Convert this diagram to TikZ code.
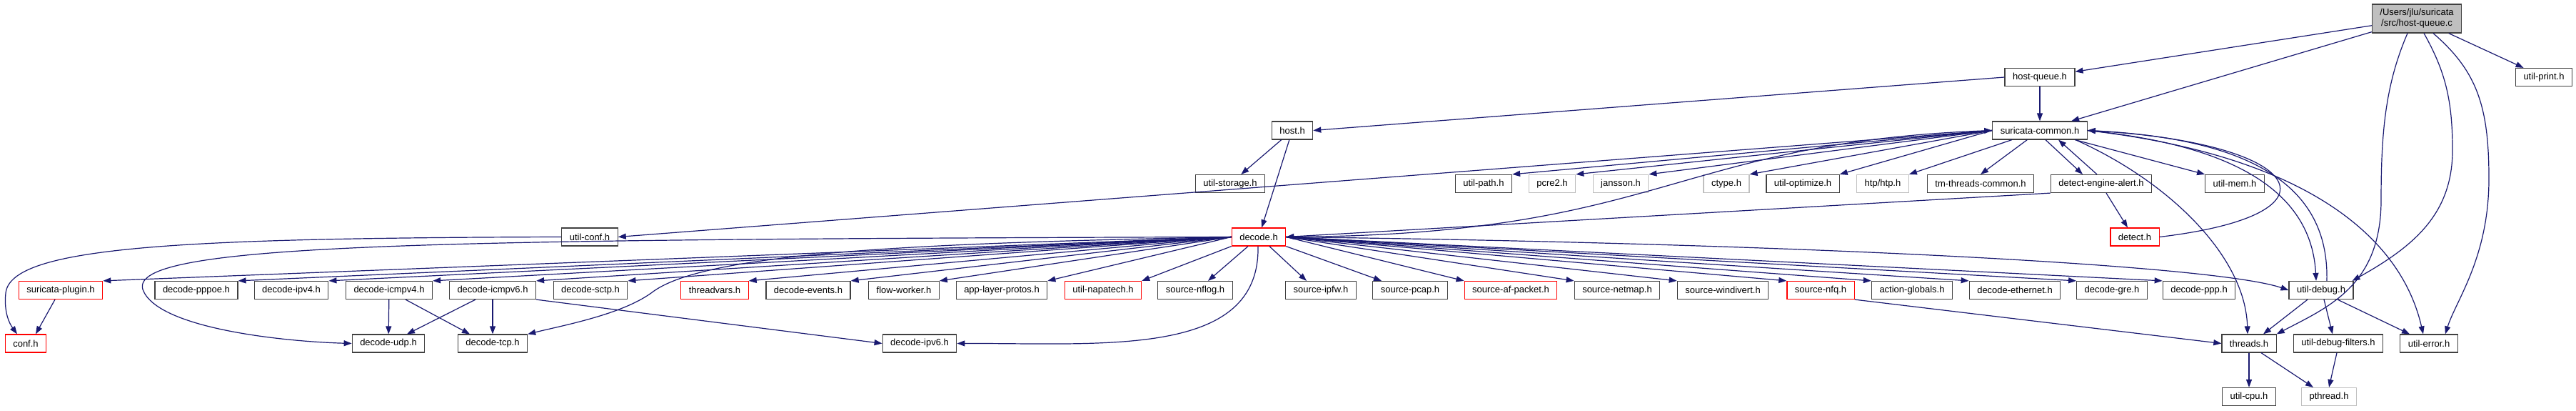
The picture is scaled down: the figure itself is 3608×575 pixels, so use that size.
\documentclass[tikz,border=0pt]{standalone}
\usepackage{fontspec}
\setmainfont{Liberation Sans}
\usetikzlibrary{arrows.meta}
\definecolor{DoxyEdge}{RGB}{25,25,112}
\definecolor{DoxyFrame}{RGB}{64,64,64}
\definecolor{DoxyGrey}{RGB}{191,191,191}
\definecolor{DoxyRed}{RGB}{255,0,0}

\begin{document}
\begin{tikzpicture}[
    x=1pt,y=-1pt,
    box/.style={draw=DoxyFrame,line width=1.2pt,fill=white,minimum height=25pt,inner xsep=11pt,inner ysep=2pt,font=\fontsize{13}{15}\selectfont},
    sysbox/.style={box,draw=DoxyGrey},
    cutbox/.style={box,draw=DoxyRed},
    rootbox/.style={box,fill=DoxyGrey,align=center,minimum height=40pt},
    arr/.style={-{Triangle[length=11pt,width=8pt]},line width=1.2pt,draw=DoxyEdge}
  ]
    \path[use as bounding box,fill=white] (0,0) rectangle (3608,575);

    \node[rootbox] (hostqueuec) at (3385,26) {/Users/jlu/suricata\\/src/host-queue.c};
    \node[box] (hostqueue) at (2857,108) {host-queue.h};
    \node[box] (utilprint) at (3563,108) {util-print.h};
    \node[box] (host) at (1810,182.5) {host.h};
    \node[box] (common) at (2857,182.5) {suricata-common.h};
    \node[box] (utilstorage) at (1723,257) {util-storage.h};
    \node[box] (utilpath) at (2078,257) {util-path.h};
    \node[sysbox] (pcre) at (2174,257) {pcre2.h};
    \node[sysbox] (jansson) at (2270,257) {jansson.h};
    \node[sysbox] (ctype) at (2418,257) {ctype.h};
    \node[box] (utiloptimize) at (2525,257) {util-optimize.h};
    \node[sysbox] (htp) at (2637,257) {htp/htp.h};
    \node[box] (tmthreads) at (2774,257) {tm-threads-common.h};
    \node[box] (dealert) at (2943,257) {detect-engine-alert.h};
    \node[box] (utilmem) at (3130,257) {util-mem.h};
    \node[box] (utilconf) at (826,331.5) {util-conf.h};
    \node[cutbox] (decode) at (1763,331.5) {decode.h};
    \node[cutbox] (detect) at (2990,331.5) {detect.h};
    \node[cutbox] (plugin) at (85,406) {suricata-plugin.h};
    \node[box] (pppoe) at (275,406) {decode-pppoe.h};
    \node[box] (ipv4) at (408,406) {decode-ipv4.h};
    \node[box] (icmpv4) at (545,406) {decode-icmpv4.h};
    \node[box] (icmpv6) at (690,406) {decode-icmpv6.h};
    \node[box] (sctp) at (827,406) {decode-sctp.h};
    \node[cutbox] (threadvars) at (1001,406) {threadvars.h};
    \node[box] (events) at (1132,406) {decode-events.h};
    \node[box] (flowworker) at (1266,406) {flow-worker.h};
    \node[box] (alprotos) at (1403,406) {app-layer-protos.h};
    \node[cutbox] (napatech) at (1545,406) {util-napatech.h};
    \node[box] (nflog) at (1674,406) {source-nflog.h};
    \node[box] (ipfw) at (1850,406) {source-ipfw.h};
    \node[box] (pcap) at (1975,406) {source-pcap.h};
    \node[cutbox] (afpacket) at (2116,406) {source-af-packet.h};
    \node[box] (netmap) at (2265,406) {source-netmap.h};
    \node[box] (windivert) at (2413,406) {source-windivert.h};
    \node[cutbox] (nfq) at (2550,406) {source-nfq.h};
    \node[box] (actionglobals) at (2678,406) {action-globals.h};
    \node[box] (ethernet) at (2822,406) {decode-ethernet.h};
    \node[box] (gre) at (2958,406) {decode-gre.h};
    \node[box] (ppp) at (3080,406) {decode-ppp.h};
    \node[box] (utildebug) at (3251,406) {util-debug.h};
    \node[cutbox] (conf) at (36,480.5) {conf.h};
    \node[box] (udp) at (544,480.5) {decode-udp.h};
    \node[box] (tcp) at (690,480.5) {decode-tcp.h};
    \node[box] (ipv6) at (1288,480.5) {decode-ipv6.h};
    \node[box] (threads) at (3150,480.5) {threads.h};
    \node[box] (debugfilters) at (3275,480.5) {util-debug-filters.h};
    \node[box] (utilerror) at (3402,480.5) {util-error.h};
    \node[box] (utilcpu) at (3150,555) {util-cpu.h};
    \node[sysbox] (pthread) at (3262,555) {pthread.h};

    \draw[arr] (hostqueuec) -- (hostqueue);
    \draw[arr] (hostqueuec) -- (common);
    \draw[arr] (hostqueuec) -- (utilprint);
    \draw[arr] ([xshift=-13pt]hostqueuec.south) .. controls (3340,120) and (3335,190) .. (3335,280) .. controls (3335,400) and (3260,430) .. (threads.north east);
    \draw[arr] ([xshift=10pt]hostqueuec.south) .. controls (3425,100) and (3435,140) .. (3435,210) .. controls (3435,300) and (3380,345) .. ([xshift=-2pt]utildebug.north east);
    \draw[arr] ([xshift=23pt]hostqueuec.south) .. controls (3470,100) and (3486,150) .. (3486,250) .. controls (3486,360) and (3440,420) .. ([xshift=-18pt]utilerror.north east);
    \draw[arr] (hostqueue.west) -- (host.east);
    \draw[arr] (hostqueue) -- (common);
    \draw[arr] (host) -- (utilstorage);
    \draw[arr] (host) -- (decode);

    \draw[arr] (common.west) -- (utilpath.north east);
    \draw[arr] (common.west) -- (pcre.north east);
    \draw[arr] (common.west) -- (jansson.north east);
    \draw[arr] (common.west) -- (ctype.north east);
    \draw[arr] (common.west) -- (utiloptimize.north east);
    \draw[arr] (common.west) -- (utilconf.east);
    \draw[arr] (common) -- (htp.north east);
    \draw[arr] (common) -- (tmthreads.north);
    \draw[arr] ([xshift=8pt]common.south) -- ([xshift=-26pt]dealert.north);
    \draw[arr] (common) -- (utilmem.north west);
    \draw[arr] ([xshift=50pt]common.south) .. controls (3040,255) and (3145,360) .. ([xshift=-2pt]threads.north);
    \draw[arr] (common.east) .. controls (3150,205) and (3238,280) .. ([xshift=-7pt]utildebug.north);
    \draw[arr] (common.east) .. controls (3210,215) and (3360,320) .. ([xshift=-8pt]utilerror.north);
    \draw[arr] ([xshift=8pt]utildebug.north) .. controls (3262,270) and (3170,195) .. (common.east);
    \draw[arr] (detect.east) .. controls (3290,300) and (3230,200) .. (common.east);
    \draw[arr] ([xshift=-6pt]dealert.north) -- ([xshift=26pt]common.south);
    \draw[arr] ([xshift=7pt]dealert.south) -- ([xshift=-10pt]detect.north);
    \draw[arr] (dealert.south west) -- (decode.east);
    \draw[arr] (decode.east) .. controls (2330,330) and (2340,200) .. (common.west);

    \draw[arr] (utilconf.west) .. controls (250,333) and (15,345) .. (8,410) .. controls (5,440) and (15,455) .. ([xshift=-12pt]conf.north);
    \draw[arr] ([xshift=-8pt]plugin.south) -- ([xshift=14pt]conf.north);

    \draw[arr] (decode.west) -- (plugin.north east);
    \draw[arr] (decode.west) -- (pppoe.north east);
    \draw[arr] (decode.west) -- (ipv4.north east);
    \draw[arr] (decode.west) -- (icmpv4.north east);
    \draw[arr] (decode.west) -- (icmpv6.north east);
    \draw[arr] (decode.west) -- (sctp.north east);
    \draw[arr] (decode.west) -- (threadvars.north east);
    \draw[arr] (decode.west) -- (events.north east);
    \draw[arr] (decode.west) -- (flowworker.north east);
    \draw[arr] (decode.west) -- (alprotos.north east);
    \draw[arr] (decode.south west) -- (napatech.north east);
    \draw[arr] ([xshift=-15pt]decode.south) -- ([xshift=18pt]nflog.north);
    \draw[arr] ([xshift=15pt]decode.south) -- ([xshift=-20pt]ipfw.north);
    \draw[arr] (decode.south east) -- ([xshift=-40pt]pcap.north);
    \draw[arr] (decode.east) -- (afpacket.north west);
    \draw[arr] (decode.east) -- (netmap.north west);
    \draw[arr] (decode.east) -- (windivert.north west);
    \draw[arr] (decode.east) -- (nfq.north west);
    \draw[arr] (decode.east) -- (actionglobals.north west);
    \draw[arr] (decode.east) -- (ethernet.north west);
    \draw[arr] (decode.east) -- (gre.north west);
    \draw[arr] (decode.east) -- (ppp.north west);
    \draw[arr] (decode.east) .. controls (2500,340) and (3100,370) .. (utildebug.west);
    \draw[arr] (decode.west) .. controls (600,335) and (180,340) .. (200,405) .. controls (220,460) and (400,478) .. (udp.west);
    \draw[arr] (decode.west) .. controls (1300,340) and (985,352) .. (912,410) .. controls (870,440) and (790,455) .. (tcp.north east);
    \draw[arr] ([xshift=-1pt]decode.south) .. controls (1765,500) and (1550,480) .. (ipv6.east);

    \draw[arr] (icmpv4) -- (udp);
    \draw[arr] ([xshift=23pt]icmpv4.south) -- ([xshift=-32pt]tcp.north);
    \draw[arr] ([xshift=-24pt]icmpv6.south) -- ([xshift=26pt]udp.north);
    \draw[arr] (icmpv6) -- (tcp);
    \draw[arr] (icmpv6.south east) -- (ipv6.west);
    \draw[arr] (nfq.south east) -- (threads.west);
    \draw[arr] ([xshift=-19pt]utildebug.south) -- ([xshift=20pt]threads.north);
    \draw[arr] ([xshift=4pt]utildebug.south) -- ([xshift=-8pt]debugfilters.north);
    \draw[arr] ([xshift=23pt]utildebug.south) -- ([xshift=-27pt]utilerror.north);
    \draw[arr] (threads) -- (utilcpu);
    \draw[arr] ([xshift=17pt]threads.south) -- ([xshift=-22pt]pthread.north);
    \draw[arr] ([xshift=-2pt]debugfilters.south) -- (pthread.north);
  \end{tikzpicture}
\end{document}
